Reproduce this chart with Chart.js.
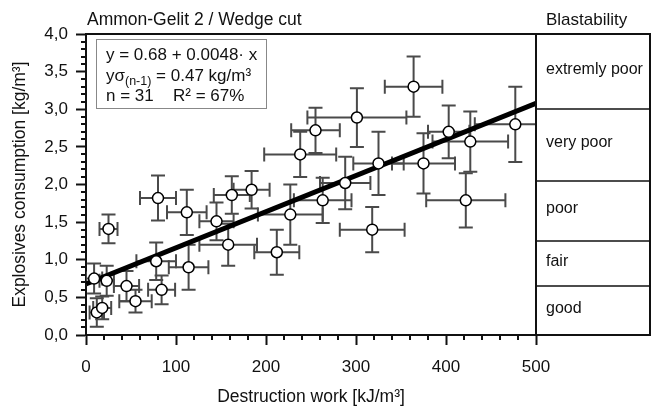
<!DOCTYPE html>
<html>
<head>
<meta charset="utf-8">
<script src="https://cdn.jsdelivr.net/npm/chart.js@4.4.1/dist/chart.umd.min.js"></script>
<style>
  html, body { margin: 0; padding: 0; background: #fff; }
  #wrap { width: 660px; height: 407px; }
</style>
</head>
<body>
<div id="wrap"><canvas id="chart" width="660" height="407"></canvas></div>
<script>
// destruction work [kJ/m³] vs. explosives consumption [kg/m³], each with its std. deviation
const workX     = [9, 12, 18, 23, 25, 45, 55, 78, 80, 84, 112, 114, 145, 158, 162, 184, 212, 227, 238, 255, 263, 288, 301, 318, 325, 364, 375, 403, 422, 427, 477];
const consumY   = [0.75, 0.30, 0.36, 0.72, 1.41, 0.65, 0.45, 0.98, 1.82, 0.60, 1.63, 0.90, 1.51, 1.20, 1.86, 1.93, 1.10, 1.60, 2.40, 2.72, 1.79, 2.02, 2.89, 1.40, 2.28, 3.30, 2.28, 2.70, 1.79, 2.57, 2.80];
const workErr   = [9, 8, 10, 8, 10, 14, 18, 22, 20, 15, 22, 22, 19, 32, 20, 20, 25, 36, 40, 27, 32, 28, 55, 36, 28, 32, 35, 23, 44, 42, 45];
const consumErr = [0.20, 0.19, 0.15, 0.20, 0.19, 0.20, 0.15, 0.25, 0.30, 0.19, 0.30, 0.30, 0.25, 0.28, 0.25, 0.25, 0.30, 0.40, 0.30, 0.30, 0.30, 0.35, 0.39, 0.30, 0.42, 0.40, 0.40, 0.35, 0.36, 0.40, 0.50];

// regression y = a + b·x
const fitIntercept = 0.68;
const fitSlope = 0.0048;
const fitRange = [0, 500];

// blastability classes on the consumption axis
const bandEdges  = [0, 0.65, 1.25, 2.05, 3.0, 4.0];
const bandLabels = ['good', 'fair', 'poor', 'very poor', 'extremly poor'];

const FONT = "'Liberation Sans', Arial, sans-serif";
const INK = '#111';
const PANEL_W = 114;

const points = workX.map((x, i) => ({ x: x, y: consumY[i] }));
const fitLine = fitRange.map(x => ({ x: x, y: fitIntercept + fitSlope * x }));

// horizontal and vertical error bars with caps
const errorBars = {
  id: 'errorBars',
  beforeDatasetsDraw(chart) {
    const { ctx, chartArea: a, scales: { x, y } } = chart;
    const cap = 7;
    ctx.save();
    ctx.beginPath();
    ctx.rect(a.left, a.top, a.right - a.left, a.bottom - a.top);
    ctx.clip();
    ctx.strokeStyle = '#4a4a4a';
    ctx.lineWidth = 2;
    workX.forEach((wx, i) => {
      const px = x.getPixelForValue(wx);
      const py = y.getPixelForValue(consumY[i]);
      const x0 = x.getPixelForValue(wx - workErr[i]);
      const x1 = x.getPixelForValue(wx + workErr[i]);
      const y0 = y.getPixelForValue(consumY[i] - consumErr[i]);
      const y1 = y.getPixelForValue(consumY[i] + consumErr[i]);
      ctx.beginPath();
      ctx.moveTo(x0, py); ctx.lineTo(x1, py);
      ctx.moveTo(x0, py - cap); ctx.lineTo(x0, py + cap);
      ctx.moveTo(x1, py - cap); ctx.lineTo(x1, py + cap);
      ctx.moveTo(px, y0); ctx.lineTo(px, y1);
      ctx.moveTo(px - cap, y0); ctx.lineTo(px + cap, y0);
      ctx.moveTo(px - cap, y1); ctx.lineTo(px + cap, y1);
      ctx.stroke();
    });
    ctx.restore();
  }
};

// minor ticks, frame, blastability panel, headings and the fit box
const decorations = {
  id: 'decorations',
  afterDraw(chart) {
    const { ctx, chartArea: a, scales: { x, y } } = chart;
    ctx.save();
    ctx.strokeStyle = INK;
    ctx.lineWidth = 2;

    // minor ticks
    ctx.beginPath();
    for (let v = 20; v < 500; v += 20) {
      if (v % 100 === 0) continue;
      const px = Math.round(x.getPixelForValue(v));
      ctx.moveTo(px, a.bottom); ctx.lineTo(px, a.bottom + 5);
    }
    for (let k = 1; k < 40; k++) {
      if (k % 5 === 0) continue;
      const py = Math.round(y.getPixelForValue(k / 10));
      ctx.moveTo(a.left, py); ctx.lineTo(a.left - 5, py);
    }
    ctx.stroke();

    // frame around plot + panel
    const pr = a.right + PANEL_W;
    ctx.beginPath();
    ctx.moveTo(a.left, a.top); ctx.lineTo(pr, a.top);
    ctx.lineTo(pr, a.bottom); ctx.lineTo(a.right, a.bottom);
    ctx.moveTo(a.right, a.top); ctx.lineTo(a.right, a.bottom);
    ctx.stroke();

    // class bands
    ctx.lineWidth = 1.6;
    ctx.font = '16px ' + FONT;
    ctx.fillStyle = INK;
    ctx.textBaseline = 'middle';
    ctx.textAlign = 'left';
    bandLabels.forEach((lab, i) => {
      const yb = y.getPixelForValue(bandEdges[i]);
      const yt = y.getPixelForValue(bandEdges[i + 1]);
      if (i > 0) {
        ctx.beginPath();
        ctx.moveTo(a.right, Math.round(yb)); ctx.lineTo(pr, Math.round(yb));
        ctx.stroke();
      }
      ctx.fillText(lab, a.right + 10, (yb + yt) / 2 - 2);
    });

    // headings
    ctx.font = '17.5px ' + FONT;
    ctx.textBaseline = 'alphabetic';
    ctx.fillText('Ammon-Gelit 2 / Wedge cut', a.left + 1, 25);
    ctx.font = '17px ' + FONT;
    ctx.fillText('Blastability', a.right + 10, 25);

    // fit statistics box
    const bx = a.left + 10, by = a.top + 5;
    ctx.strokeStyle = '#888';
    ctx.lineWidth = 1;
    ctx.strokeRect(bx + 0.5, by + 0.5, 170, 69);
    const tx = bx + 10;
    ctx.fillText('y = ' + fitIntercept.toFixed(2) + ' + ' + fitSlope.toFixed(4) + '\u00b7 x', tx, by + 21);
    let cx = tx;
    ctx.fillText('y\u03c3', cx, by + 42);
    cx += ctx.measureText('y\u03c3').width;
    ctx.font = '12.5px ' + FONT;
    ctx.fillText('(n-1)', cx, by + 46);
    cx += ctx.measureText('(n-1)').width;
    ctx.font = '17px ' + FONT;
    ctx.fillText(' = 0.47 kg/m\u00b3', cx, by + 42);
    ctx.fillText('n = 31', tx, by + 62);
    ctx.fillText('R\u00b2 = 67%', tx + 67, by + 62);
    ctx.restore();
  }
};

new Chart(document.getElementById('chart'), {
  type: 'scatter',
  data: {
    datasets: [{
      data: points,
      order: 0,
      pointRadius: 5.5,
      pointBackgroundColor: '#fff',
      pointBorderColor: '#000',
      pointBorderWidth: 1.5
    }, {
      type: 'line',
      data: fitLine,
      order: 1,
      showLine: true,
      borderColor: '#000',
      borderWidth: 5,
      pointRadius: 0,
      fill: false
    }]
  },
  options: {
    responsive: false,
    animation: false,
    devicePixelRatio: 1,
    layout: { padding: { left: 0, right: PANEL_W + 10, top: 34, bottom: 0 } },
    plugins: { legend: { display: false }, tooltip: { enabled: false } },
    scales: {
      x: {
        type: 'linear', min: 0, max: 500,
        afterFit(s) { s.height = 72; },
        ticks: { stepSize: 100, color: INK, font: { family: FONT, size: 17 }, padding: 12, maxRotation: 0 },
        grid: { drawOnChartArea: false, tickLength: 10, tickColor: INK, tickWidth: 2 },
        border: { color: INK, width: 2 },
        title: { display: true, text: 'Destruction work [kJ/m\u00b3]', color: INK, font: { family: FONT, size: 17.5 }, padding: { top: 0, bottom: -1 } }
      },
      y: {
        type: 'linear', min: 0, max: 4,
        afterFit(s) { s.width = 86; },
        ticks: {
          stepSize: 0.5, color: INK, font: { family: FONT, size: 17 }, padding: 8,
          callback: v => v.toFixed(1).replace('.', ',')
        },
        grid: { drawOnChartArea: false, tickLength: 10, tickColor: INK, tickWidth: 2 },
        border: { color: INK, width: 2 },
        title: { display: true, text: 'Explosives consumption [kg/m\u00b3]', color: INK, font: { family: FONT, size: 17.5 }, padding: { top: 10, bottom: 0 } }
      }
    }
  },
  plugins: [errorBars, decorations]
});
</script>
</body>
</html>
